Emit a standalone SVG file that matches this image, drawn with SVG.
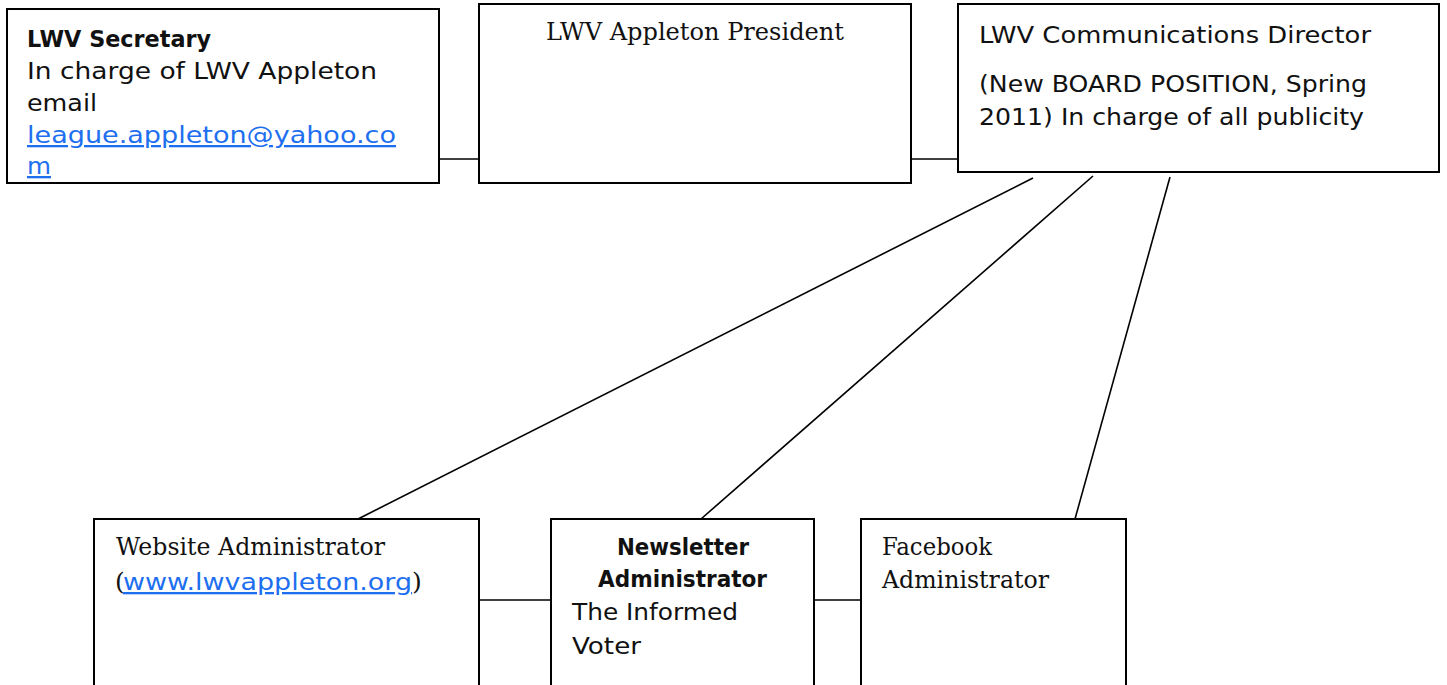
<svg xmlns="http://www.w3.org/2000/svg" width="1447" height="685" viewBox="0 0 1447 685">
<style>
.box{fill:#fff;stroke:#000;stroke-width:2}
.ln{stroke:#000;stroke-width:1.6;fill:none}
.s{font-family:"DejaVu Sans","Liberation Sans",Arial,sans-serif;font-size:23px;fill:#111}
.b{font-weight:bold}
.r{font-family:"DejaVu Serif","Liberation Serif",serif;font-size:25px;fill:#111}
.lk{fill:#1E6FF0;text-decoration:underline}
</style>
<rect width="1447" height="685" fill="#fff"/>
<g id="connectors">
<line class="ln" x1="439" y1="159" x2="479" y2="159"/>
<line class="ln" x1="911" y1="159" x2="958" y2="159"/>
<line class="ln" x1="1033" y1="178" x2="358" y2="519"/>
<line class="ln" x1="1093" y1="176" x2="701" y2="519"/>
<line class="ln" x1="1170" y1="177" x2="1075" y2="519"/>
<line class="ln" x1="479" y1="600" x2="553" y2="600"/>
<line class="ln" x1="814" y1="600" x2="862" y2="600"/>
</g>
<g id="secretary">
<rect class="box" x="7" y="9" width="432" height="174"/>
<text class="s b" x="27" y="47" textLength="184" lengthAdjust="spacingAndGlyphs">LWV Secretary</text>
<text class="s" x="27" y="79" textLength="350" lengthAdjust="spacingAndGlyphs">In charge of LWV Appleton</text>
<text class="s" x="27" y="111" textLength="70" lengthAdjust="spacingAndGlyphs">email</text>
<text class="s lk" x="27" y="143" textLength="369" lengthAdjust="spacingAndGlyphs">league.appleton@yahoo.co</text>
<text class="s lk" x="27" y="174" textLength="24" lengthAdjust="spacingAndGlyphs">m</text>
</g>
<g id="president">
<rect class="box" x="479" y="4" width="432" height="179"/>
<text class="r" x="546" y="40" textLength="298" lengthAdjust="spacingAndGlyphs">LWV Appleton President</text>
</g>
<g id="comms">
<rect class="box" x="958" y="4" width="481" height="168"/>
<text class="s" x="979" y="43" textLength="392" lengthAdjust="spacingAndGlyphs">LWV Communications Director</text>
<text class="s" x="979" y="92" textLength="388" lengthAdjust="spacingAndGlyphs">(New BOARD POSITION, Spring</text>
<text class="s" x="979" y="125" textLength="385" lengthAdjust="spacingAndGlyphs">2011) In charge of all publicity</text>
</g>
<g id="website">
<rect class="box" x="94" y="519" width="385" height="200"/>
<text class="r" x="116" y="555" textLength="269" lengthAdjust="spacingAndGlyphs">Website Administrator</text>
<text class="r" x="115" y="590">(</text>
<text class="s lk" x="123" y="590" textLength="289" lengthAdjust="spacingAndGlyphs">www.lwvappleton.org</text>
<text class="r" x="412" y="590">)</text>
</g>
<g id="newsletter">
<rect class="box" x="551" y="519" width="263" height="200"/>
<text class="s b" x="617" y="555" textLength="132" lengthAdjust="spacingAndGlyphs">Newsletter</text>
<text class="s b" x="598" y="587" textLength="169" lengthAdjust="spacingAndGlyphs">Administrator</text>
<text class="s" x="572" y="620" textLength="166" lengthAdjust="spacingAndGlyphs">The Informed</text>
<text class="s" x="572" y="654" textLength="69" lengthAdjust="spacingAndGlyphs">Voter</text>
</g>
<g id="facebook">
<rect class="box" x="861" y="519" width="265" height="200"/>
<text class="r" x="882" y="555" textLength="110" lengthAdjust="spacingAndGlyphs">Facebook</text>
<text class="r" x="882" y="588" textLength="167" lengthAdjust="spacingAndGlyphs">Administrator</text>
</g>
</svg>
